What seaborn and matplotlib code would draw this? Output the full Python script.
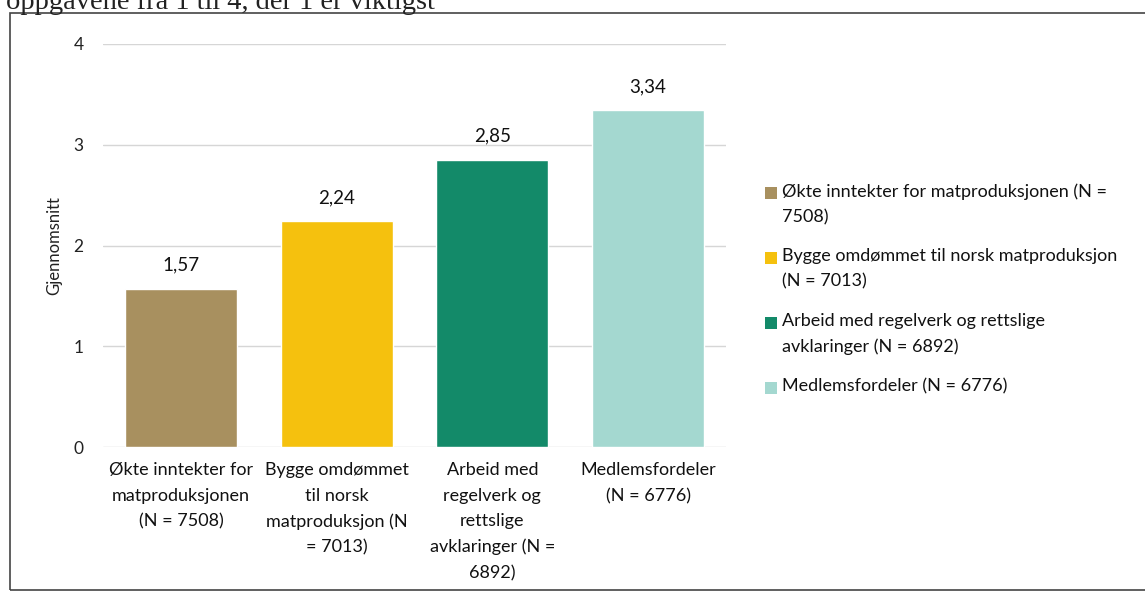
import matplotlib
matplotlib.use("Agg")
import matplotlib.pyplot as plt
import matplotlib.patches as mpatches
import seaborn as sns

# data
categories = [
    "Økte inntekter for\nmatproduksjonen\n(N = 7508)",
    "Bygge omdømmet\ntil norsk\nmatproduksjon (N\n= 7013)",
    "Arbeid med\nregelverk og\nrettslige\navklaringer (N =\n6892)",
    "Medlemsfordeler\n(N = 6776)",
]
legend_labels = [
    "Økte inntekter for matproduksjonen (N =\n7508)",
    "Bygge omdømmet til norsk matproduksjon\n(N = 7013)",
    "Arbeid med regelverk og rettslige\navklaringer (N = 6892)",
    "Medlemsfordeler (N = 6776)",
]
values = [1.57, 2.24, 2.85, 3.34]
colors = ["#A8905F", "#F5C10E", "#138A69", "#A4D8D0"]
yticks = [0, 1, 2, 3, 4]

sns.set_style("white")
plt.rcParams["font.family"] = ["Lato", "DejaVu Sans"]

W, H = 1145, 593
fig = plt.figure(figsize=(W / 100, H / 100), dpi=100)
ax = fig.add_axes([0.09, 0.246, 0.544, 0.68])

sns.barplot(x=categories, y=values, hue=categories, palette=colors,
            width=0.72, saturation=1, legend=False, ax=ax)

ax.set_ylim(0, 4)
ax.set_yticks(yticks)
ax.set_yticklabels([str(t) for t in yticks], fontsize=12.5, color="#222222")
ax.tick_params(axis="y", length=0, pad=14)
ax.tick_params(axis="x", length=0, pad=11)
for lbl in ax.get_xticklabels():
    lbl.set_fontsize(13)
    lbl.set_linespacing(1.72)
    lbl.set_color("#111111")
ax.grid(axis="y", color="#D6D6D6", linewidth=1)
ax.set_axisbelow(True)
for s in ax.spines.values():
    s.set_visible(False)
ax.set_ylabel("Gjennomsnitt", fontsize=12, color="#222222", labelpad=8)

for p, v in zip(ax.patches, values):
    ax.annotate(f"{v:.2f}".replace(".", ","),
                (p.get_x() + p.get_width() / 2, p.get_height()),
                xytext=(0, 11), textcoords="offset points",
                ha="center", va="bottom", fontsize=13.5, color="#111111")

# legend drawn by hand so the square sits on the first text line
leg_x, leg_y0, leg_step = 765, 193, 65
for i, (c, lab) in enumerate(zip(colors, legend_labels)):
    yc = leg_y0 + i * leg_step
    fig.patches.append(mpatches.Rectangle(
        (leg_x / W, 1 - (yc + 6) / H), 12 / W, 12 / H,
        transform=fig.transFigure, facecolor=c, edgecolor="none"))
    fig.text((leg_x + 17) / W, 1 - (yc - 10) / H, lab, fontsize=13,
             va="top", ha="left", linespacing=1.72, color="#111111")

# frame and cut-off heading from the scanned page
fig.patches.append(mpatches.Rectangle((0.009, 0.005), 1.2, 0.973,
                                      transform=fig.transFigure,
                                      fill=False, edgecolor="#444444",
                                      linewidth=1.2))
fig.text(0.005, 1 - 9 / H, "oppgavene fra 1 til 4, der 1 er viktigst",
         fontsize=20.5, family=["Liberation Serif", "DejaVu Serif"],
         va="baseline", ha="left", color="#222222")

fig.savefig("out.png", dpi=100, facecolor="white")
